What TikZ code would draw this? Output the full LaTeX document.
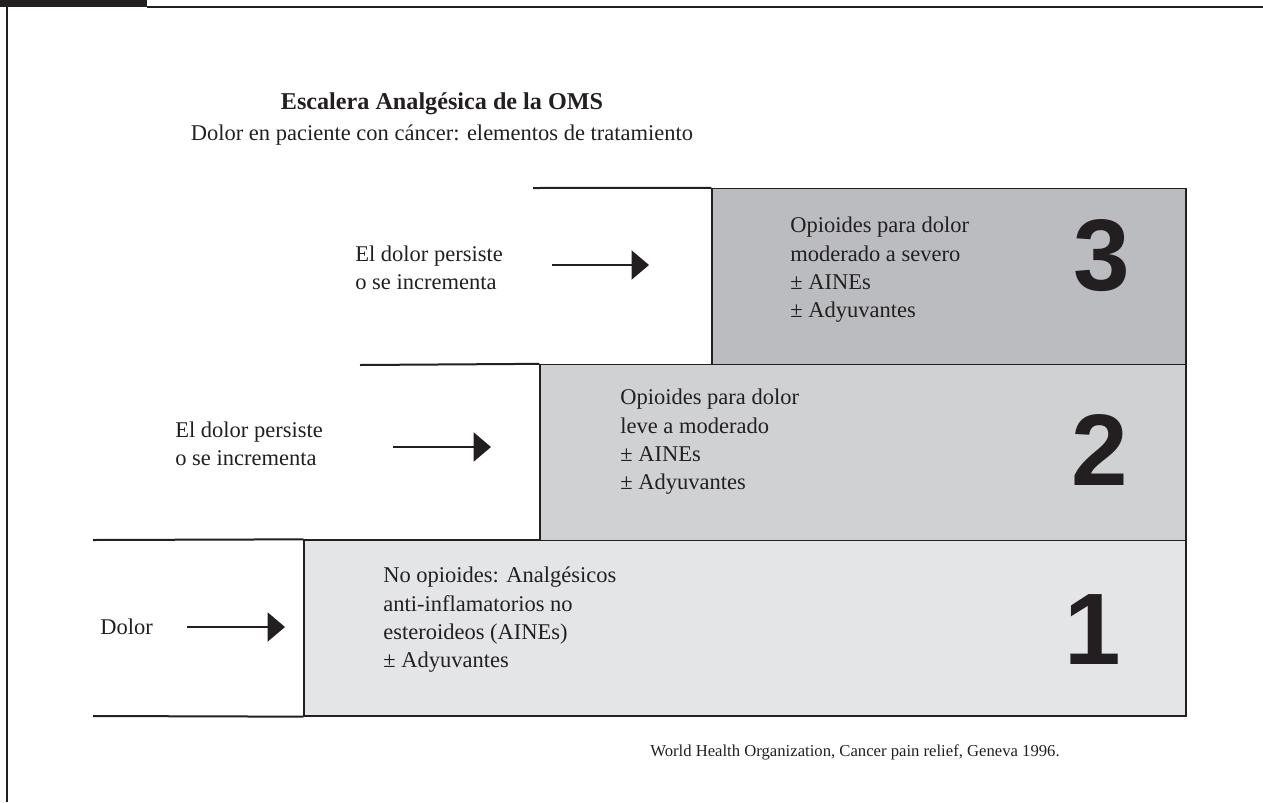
\documentclass[tikz,border=0pt]{standalone}
\usepackage{fontspec}
\setmainfont{Liberation Serif}
\newfontfamily\bignum{Liberation Sans}
\usepackage{tikz}
\usetikzlibrary{arrows.meta}
\definecolor{ink}{HTML}{231F20}
\definecolor{stepone}{HTML}{E4E5E7}
\definecolor{steptwo}{HTML}{D0D1D3}
\definecolor{stepthree}{HTML}{BBBCBF}

\begin{document}
\begin{tikzpicture}[x=0.6pt,y=-0.6pt]
            \tikzstyle{stepbox}=[draw=ink, line width=0.8pt, inner sep=0pt, minimum height=105.6pt]
            \tikzstyle{txt}=[anchor=west, align=left, inner sep=0pt, text=ink, font=\fontsize{13.5}{17}\selectfont]
            \tikzstyle{num}=[inner sep=0pt, text=ink, font=\bignum\bfseries\fontsize{61}{61}\selectfont]
            \tikzstyle{stair}=[draw=ink, line width=1.2pt]
            \tikzstyle{arr}=[draw=ink, line width=1.2pt, -{Triangle[length=10.5pt,width=17.5pt]}]
            \useasboundingbox (0,0) rectangle (1263,802);
            % frame
            \fill[ink] (0,0) rectangle (147,7);
            \draw[ink, line width=1.3pt] (147,7) -- (1263,7);
            \draw[ink, line width=1.3pt] (7,7) -- (7,802);
            % heading
            \node[inner sep=0pt, text=ink, font=\bfseries\fontsize{14.5}{17}\selectfont] (title) at (442,104) {Escalera Analgésica de la OMS};
            \node[inner sep=0pt, text=ink, font=\fontsize{13.5}{16}\selectfont] (sub) at (442,135) {Dolor en paciente con cáncer: elementos de tratamiento};
            % steps
            \node[stepbox, fill=stepone, minimum width=529.2pt] (s1) at (745,628) {};
            \node[stepbox, fill=steptwo, minimum width=387.6pt] (s2) at (863,452.5) {};
            \node[stepbox, fill=stepthree, minimum width=284.4pt] (s3) at (949,276.5) {};
            \coordinate (e1) at (93,540);
            \coordinate (f1) at (93,716);
            \coordinate (e2) at (360,365);
            \coordinate (e3) at (533,188);
            \draw[stair] (e1) -- (s1.north west);
            \draw[stair] (f1) -- (s1.south west);
            \draw[stair] (e2) -- (s2.north west);
            \draw[stair] (e3) -- (s3.north west);
            % step texts
            \node[txt] (d1) at (383,620) {No opioides: Analgésicos\\anti-inflamatorios no\\esteroideos (AINEs)\\± Adyuvantes};
            \node[txt] (d2) at (620,442) {Opioides para dolor\\leve a moderado\\± AINEs\\± Adyuvantes};
            \node[txt] (d3) at (790,270) {Opioides para dolor\\moderado a severo\\± AINEs\\± Adyuvantes};
            \node[num] (n1) at (1093,630) {1};
            \node[num] (n2) at (1100,450) {2};
            \node[num] (n3) at (1102,256) {3};
            % entries
            \node[txt] (in1) at (100,627) {Dolor};
            \node[txt] (in2) at (175,444) {El dolor persiste\\o se incrementa};
            \node[txt] (in3) at (355,268) {El dolor persiste\\o se incrementa};
            \coordinate (t1) at (187,627);
            \coordinate (h1) at (285,627);
            \coordinate (t2) at (393,447);
            \coordinate (h2) at (491,447);
            \coordinate (t3) at (552,265);
            \coordinate (h3) at (649,265);
            \draw[arr] (t1) -- (h1);
            \draw[arr] (t2) -- (h2);
            \draw[arr] (t3) -- (h3);
            % source
            \node[inner sep=0pt, anchor=east, text=ink, font=\fontsize{10}{12}\selectfont] (src) at (1060,752) {World Health Organization, Cancer pain relief, Geneva 1996.};
        \end{tikzpicture}
\end{document}
